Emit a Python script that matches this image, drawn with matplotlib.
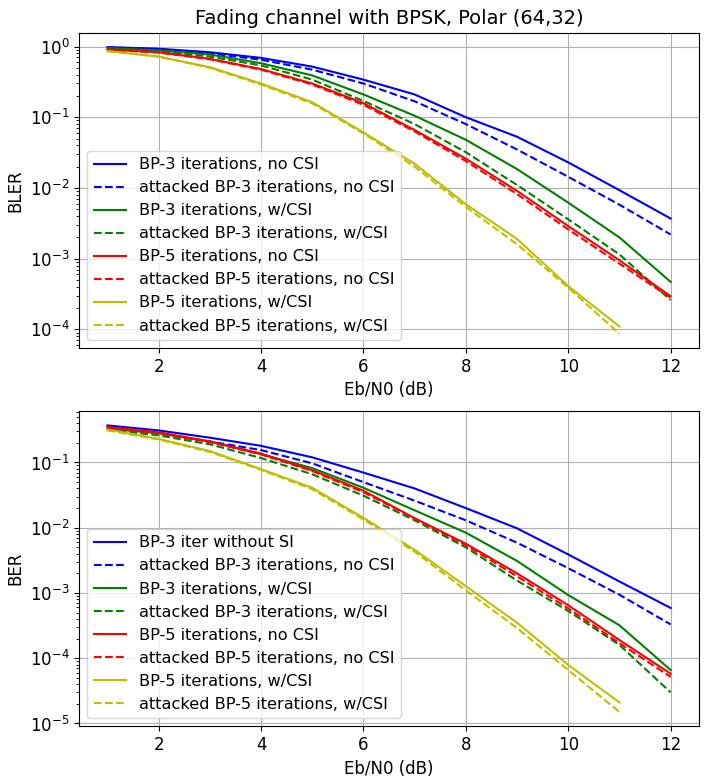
import matplotlib
matplotlib.use("Agg")
import matplotlib.pyplot as plt

plt.rcParams['font.size'] = 12

ebn0 = list(range(1, 13))
ebn0_short = list(range(1, 12))

# BLER curves (top panel)
bler_bp3_nocsi = [0.98, 0.93, 0.83, 0.69, 0.52, 0.34, 0.21, 0.10, 0.053, 0.023, 9.3e-3, 3.7e-3]
bler_bp3_nocsi_att = [0.97, 0.92, 0.80, 0.65, 0.47, 0.30, 0.168, 0.080, 0.035, 0.0144, 5.8e-3, 2.2e-3]
bler_bp3_csi = [0.95, 0.88, 0.77, 0.58, 0.39, 0.21, 0.105, 0.048, 0.0185, 6.2e-3, 2.0e-3, 4.7e-4]
bler_bp3_csi_att = [0.93, 0.86, 0.72, 0.54, 0.34, 0.17, 0.080, 0.032, 0.011, 3.6e-3, 1.15e-3, 2.6e-4]
bler_bp5_nocsi = [0.91, 0.83, 0.67, 0.48, 0.30, 0.158, 0.066, 0.026, 9.1e-3, 2.9e-3, 9.5e-4, 2.95e-4]
bler_bp5_nocsi_att = [0.90, 0.82, 0.66, 0.47, 0.29, 0.15, 0.063, 0.024, 8.2e-3, 2.6e-3, 8.5e-4, 2.8e-4]
bler_bp5_csi = [0.86, 0.72, 0.51, 0.30, 0.163, 0.061, 0.022, 5.9e-3, 1.9e-3, 4.1e-4, 1.1e-4]
bler_bp5_csi_att = [0.86, 0.72, 0.50, 0.29, 0.157, 0.059, 0.020, 5.4e-3, 1.6e-3, 3.9e-4, 8.7e-5]

# BER curves (bottom panel)
ber_bp3_nocsi = [0.37, 0.31, 0.24, 0.18, 0.12, 0.070, 0.040, 0.020, 9.8e-3, 3.9e-3, 1.5e-3, 5.9e-4]
ber_bp3_nocsi_att = [0.35, 0.28, 0.21, 0.155, 0.097, 0.050, 0.026, 0.013, 5.9e-3, 2.4e-3, 9.4e-4, 3.3e-4]
ber_bp3_csi = [0.33, 0.28, 0.21, 0.134, 0.082, 0.041, 0.0185, 8.4e-3, 3.1e-3, 9.3e-4, 3.2e-4, 6.6e-5]
ber_bp3_csi_att = [0.32, 0.26, 0.19, 0.117, 0.066, 0.031, 0.013, 5.0e-3, 1.55e-3, 5.3e-4, 1.6e-4, 3.0e-5]
ber_bp5_nocsi = [0.35, 0.29, 0.21, 0.137, 0.076, 0.037, 0.014, 5.7e-3, 2.0e-3, 6.5e-4, 1.9e-4, 5.8e-5]
ber_bp5_nocsi_att = [0.34, 0.28, 0.205, 0.133, 0.074, 0.035, 0.0139, 5.4e-3, 1.8e-3, 5.8e-4, 1.7e-4, 5.2e-5]
ber_bp5_csi = [0.32, 0.23, 0.15, 0.079, 0.041, 0.0142, 4.6e-3, 1.27e-3, 3.5e-4, 7.9e-5, 2.1e-5]
ber_bp5_csi_att = [0.31, 0.225, 0.145, 0.077, 0.039, 0.0134, 4.3e-3, 1.1e-3, 2.9e-4, 6.6e-5, 1.5e-5]

top_labels = ['BP-3 iterations, no CSI', 'attacked BP-3 iterations, no CSI',
              'BP-3 iterations, w/CSI', 'attacked BP-3 iterations, w/CSI',
              'BP-5 iterations, no CSI', 'attacked BP-5 iterations, no CSI',
              'BP-5 iterations, w/CSI', 'attacked BP-5 iterations, w/CSI']
bottom_labels = ['BP-3 iter without SI'] + top_labels[1:]

fig, (ax1, ax2) = plt.subplots(2, 1, figsize=(7.08, 7.81), dpi=100)

top_series = [(ebn0, bler_bp3_nocsi, 'b-'), (ebn0, bler_bp3_nocsi_att, 'b--'),
              (ebn0, bler_bp3_csi, 'g-'), (ebn0, bler_bp3_csi_att, 'g--'),
              (ebn0, bler_bp5_nocsi, 'r-'), (ebn0, bler_bp5_nocsi_att, 'r--'),
              (ebn0_short, bler_bp5_csi, 'y-'), (ebn0_short, bler_bp5_csi_att, 'y--')]
bottom_series = [(ebn0, ber_bp3_nocsi, 'b-'), (ebn0, ber_bp3_nocsi_att, 'b--'),
                 (ebn0, ber_bp3_csi, 'g-'), (ebn0, ber_bp3_csi_att, 'g--'),
                 (ebn0, ber_bp5_nocsi, 'r-'), (ebn0, ber_bp5_nocsi_att, 'r--'),
                 (ebn0_short, ber_bp5_csi, 'y-'), (ebn0_short, ber_bp5_csi_att, 'y--')]

for (x, y, fmt), lab in zip(top_series, top_labels):
    ax1.semilogy(x, y, fmt, label=lab)
for (x, y, fmt), lab in zip(bottom_series, bottom_labels):
    ax2.semilogy(x, y, fmt, label=lab)

ax1.set_title('Fading channel with BPSK, Polar (64,32)', fontsize=14)
ax1.set_xlabel('Eb/N0 (dB)')
ax1.set_ylabel('BLER')
ax2.set_xlabel('Eb/N0 (dB)')
ax2.set_ylabel('BER')
for ax in (ax1, ax2):
    ax.grid(True)
    ax.legend(loc='lower left', fontsize=11.6, labelspacing=0.5)

plt.subplots_adjust(left=0.112, right=0.987, top=0.958, bottom=0.070, hspace=0.2)
plt.savefig('out.png', dpi=100)
